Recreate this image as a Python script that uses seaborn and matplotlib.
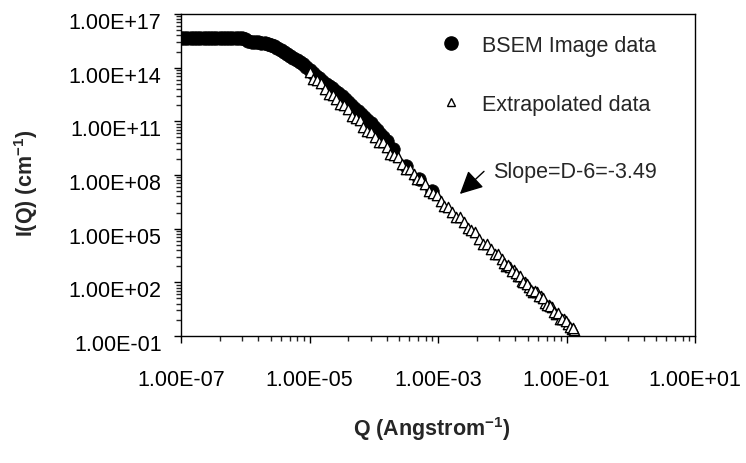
import numpy as np
import pandas as pd
import matplotlib
matplotlib.use("Agg")
import matplotlib.pyplot as plt
import matplotlib.ticker as mticker
from matplotlib.lines import Line2D
from matplotlib.transforms import ScaledTranslation
import seaborn as sns

# ---------------- data ----------------
bsem_q = [
    1.00e-7, 1.12e-7, 1.26e-7, 1.41e-7, 1.58e-7, 1.78e-7, 2.00e-7, 2.24e-7, 2.51e-7, 2.82e-7,
    3.16e-7, 3.55e-7, 3.98e-7, 4.47e-7, 5.01e-7, 5.62e-7, 6.31e-7, 7.08e-7, 7.94e-7, 8.91e-7,
    1.00e-6, 1.12e-6, 1.26e-6, 1.41e-6, 1.58e-6, 1.78e-6, 2.00e-6, 2.24e-6, 2.51e-6, 2.82e-6,
    3.16e-6, 3.55e-6, 3.98e-6, 4.47e-6, 5.01e-6, 5.62e-6, 6.31e-6, 7.08e-6, 7.94e-6, 8.91e-6,
    1.00e-5, 1.12e-5, 1.26e-5, 1.41e-5, 1.58e-5, 1.78e-5, 2.00e-5, 2.24e-5, 2.51e-5, 2.82e-5,
    3.16e-5, 3.55e-5, 3.98e-5, 4.47e-5, 5.01e-5, 5.62e-5, 6.31e-5, 7.08e-5, 7.94e-5, 8.91e-5,
    1.00e-4, 1.12e-4, 1.26e-4, 1.41e-4, 1.58e-4, 2.00e-4, 3.16e-4, 5.01e-4, 7.94e-4,
]
bsem_i = [
    4.6e15, 4.4e15, 4.5e15, 4.7e15, 4.4e15, 4.5e15, 4.6e15, 4.3e15, 4.5e15, 4.6e15,
    4.4e15, 4.5e15, 4.7e15, 4.5e15, 4.4e15, 4.6e15, 4.5e15, 4.4e15, 4.6e15, 4.5e15,
    3.98e15, 3.16e15, 2.82e15, 2.75e15, 2.63e15, 2.51e15, 2.34e15, 2.14e15, 1.91e15, 1.58e15,
    1.26e15, 9.77e14, 7.59e14, 5.89e14, 4.47e14, 3.47e14, 2.63e14, 2.04e14, 1.58e14, 1.10e14,
    7.41e13, 5.25e13, 3.55e13, 2.51e13, 1.78e13, 1.29e13, 9.33e12, 7.08e12, 5.25e12, 3.80e12,
    2.69e12, 1.86e12, 1.26e12, 8.51e11, 5.75e11, 3.80e11, 2.51e11, 1.66e11, 1.12e11, 7.59e10,
    5.01e10, 3.16e10, 2.00e10, 1.26e10, 7.94e9, 2.82e9, 3.0e8, 6.0e7, 1.2e7,
]

extra_q = [
    1.00e-5, 1.15e-5, 1.32e-5, 1.51e-5, 1.74e-5, 2.00e-5, 2.29e-5, 2.63e-5, 3.02e-5, 3.47e-5,
    3.98e-5, 4.57e-5, 5.25e-5, 6.03e-5, 6.92e-5, 7.94e-5, 9.12e-5, 1.047e-4, 1.202e-4, 1.380e-4,
    1.585e-4, 1.820e-4, 2.089e-4, 2.399e-4, 2.754e-4, 3.162e-4, 3.631e-4, 4.169e-4, 4.786e-4, 5.495e-4,
    6.310e-4, 7.244e-4, 8.318e-4, 9.550e-4, 1.096e-3, 1.259e-3, 1.445e-3, 1.660e-3, 1.905e-3, 2.188e-3,
    2.512e-3, 2.884e-3, 3.311e-3, 3.802e-3, 4.365e-3, 5.012e-3, 5.754e-3, 6.607e-3, 7.586e-3, 8.710e-3,
    1.000e-2, 1.148e-2, 1.318e-2, 1.514e-2, 1.738e-2, 1.995e-2, 2.291e-2, 2.630e-2, 3.020e-2, 3.467e-2,
    3.981e-2, 4.571e-2, 5.248e-2, 6.026e-2, 6.918e-2, 7.943e-2, 9.120e-2, 0.1047, 0.1202, 0.1318,
    1.07e-2, 1.23e-2, 1.41e-2, 1.62e-2, 1.86e-2, 2.14e-2, 2.45e-2, 2.82e-2, 3.24e-2, 3.72e-2,
    4.27e-2, 4.90e-2, 5.62e-2, 6.46e-2, 7.41e-2, 8.51e-2, 9.77e-2, 0.112, 0.126,
]
extra_i = [
    6.03e13, 2.45e13, 2.00e13, 1.48e13, 6.31e12, 3.39e12, 3.16e12, 1.70e12, 8.91e11, 8.71e11,
    4.90e11, 2.00e11, 1.62e11, 1.20e11, 5.13e10, 2.75e10, 2.57e10, 1.38e10, 7.08e9, 6.92e9,
    3.89e9, 1.58e9, 1.29e9, 9.55e8, 4.07e8, 2.24e8, 2.09e8, 1.12e8, 5.75e7, 5.62e7,
    3.16e7, 1.29e7, 1.05e7, 7.76e6, 3.31e6, 1.78e6, 1.66e6, 8.91e5, 4.57e5, 4.47e5,
    2.51e5, 1.05e5, 8.51e4, 6.31e4, 2.69e4, 1.45e4, 1.35e4, 7.24e3, 3.72e3, 3.63e3,
    2.04e3, 832, 676, 501, 214, 115, 107, 57.5, 30.2, 29.5,
    16.6, 6.76, 5.50, 4.07, 1.74, 0.933, 0.871, 0.468, 0.240, 0.212,
    1.20e3, 977, 417, 347, 240, 102, 79.4, 36.3, 33.9, 16.2,
    13.8, 5.62, 4.68, 2.24, 1.95, 0.871, 0.708, 0.339, 0.269,
]

series_labels = ["BSEM Image data", "Extrapolated data"]
x_major = [1e-7, 1e-5, 1e-3, 1e-1, 1e1]
y_major = [1e-1, 1e2, 1e5, 1e8, 1e11, 1e14, 1e17]
annotation_text = "Slope=D-6=-3.49"

df_bsem = pd.DataFrame({"Q": bsem_q, "I": bsem_i})
df_extra = pd.DataFrame({"Q": extra_q, "I": extra_i})

# ---------------- styling ----------------
sns.set_style("ticks")
plt.rcParams["font.family"] = ["Liberation Sans", "DejaVu Sans"]
plt.rcParams["mathtext.fontset"] = "custom"
plt.rcParams["mathtext.rm"] = "Liberation Sans"
plt.rcParams["mathtext.bf"] = "Liberation Sans:bold"

FS = 15.5
DPI = 100
fig = plt.figure(figsize=(7.46, 4.64), dpi=DPI)
ax = fig.add_axes([181 / 746, 1 - 337 / 464, (695 - 181) / 746, (337 - 15) / 464])

sns.scatterplot(data=df_bsem, x="Q", y="I", ax=ax, marker="o", s=95,
                color="black", edgecolor="black", linewidth=0.5, zorder=3, legend=False)
sns.scatterplot(data=df_extra, x="Q", y="I", ax=ax, marker="^", s=55,
                facecolor="white", edgecolor="black", linewidth=1.0, zorder=4, legend=False)

ax.set_xscale("log")
ax.set_yscale("log")
ax.set_xlim(1e-7, 1e1)
ax.set_ylim(1e-1, 1e17)

# Excel-like tick layout
ax.xaxis.set_major_locator(mticker.FixedLocator(x_major))
ax.yaxis.set_major_locator(mticker.FixedLocator(y_major))
xminor = [m * k ** 2 for m in x_major[:-1] for k in range(2, 10)]
yminor = [m * k ** 3 for m in y_major[:-1] for k in range(2, 10)]
ax.xaxis.set_minor_locator(mticker.FixedLocator(xminor))
ax.yaxis.set_minor_locator(mticker.FixedLocator(yminor))
ax.xaxis.set_minor_formatter(mticker.NullFormatter())
ax.yaxis.set_minor_formatter(mticker.NullFormatter())
fmt = mticker.FuncFormatter(lambda v, p: f"{v:.2E}")
ax.xaxis.set_major_formatter(fmt)
ax.yaxis.set_major_formatter(fmt)

ax.tick_params(axis="both", which="major", direction="out", length=5, width=1,
               labelsize=FS, colors="black")
ax.tick_params(axis="both", which="minor", direction="out", length=3.5, width=1)
ax.tick_params(axis="x", which="major", pad=19)
ax.tick_params(axis="y", which="major", pad=9)

for sp in ax.spines.values():
    sp.set_visible(True)
    sp.set_color("black")
    sp.set_linewidth(1.0)

# shift y tick labels slightly downward like the Excel original
offset = ScaledTranslation(0, -6 / DPI, fig.dpi_scale_trans)
for lbl in ax.get_yticklabels():
    lbl.set_transform(lbl.get_transform() + offset)

ax.set_xlabel(r"Q (Angstrom$^{\mathbf{-1}}$)", fontsize=FS, fontweight="bold")
ax.set_ylabel(r"I(Q) (cm$^{\mathbf{-1}}$)", fontsize=FS, fontweight="bold")
ax.xaxis.set_label_coords((432 - 181) / 514, (337 - 415) / 322)
ax.yaxis.set_label_coords((40 - 181) / 514, (337 - 183) / 322)

# legend
handles = [
    Line2D([], [], linestyle="none", marker="o", markersize=9.5, color="black"),
    Line2D([], [], linestyle="none", marker="^", markersize=5.5,
           markerfacecolor="white", markeredgecolor="black", markeredgewidth=1.0),
]
ax.legend(handles, series_labels, loc="upper left",
          bbox_to_anchor=((440 - 181) / 514, (337 - 36) / 322),
          frameon=False, fontsize=FS, handlelength=1.0, handletextpad=0.95,
          labelspacing=1.75, borderpad=0, borderaxespad=0)

# slope annotation
ax.annotate("", xy=(2.19e-3, 8.7e6), xytext=(5.2e-3, 1.6e8),
            arrowprops=dict(arrowstyle="-|>,head_length=0.7,head_width=0.35",
                            mutation_scale=20, color="black", lw=1.0,
                            shrinkA=0, shrinkB=0))
ax.text(7.2e-3, 1.66e8, annotation_text, fontsize=FS, ha="left", va="center")

fig.savefig("out.png", dpi=DPI, facecolor="white")
